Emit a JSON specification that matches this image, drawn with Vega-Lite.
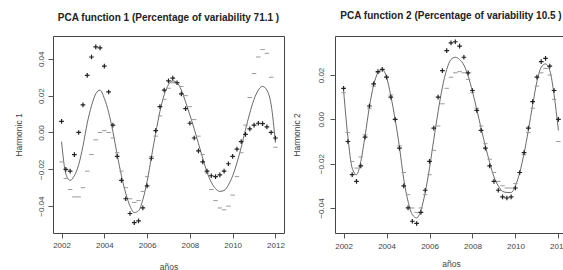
{
  "$schema": "https://vega.github.io/schema/vega-lite/v6.json",
  "padding": {"left": 13, "top": 10, "right": 0, "bottom": 0},
  "spacing": 6,
  "background": "white",
  "config": {
    "font": "Liberation Sans",
    "view": {"stroke": "#444", "strokeWidth": 1},
    "axis": {"grid": false, "domain": false, "tickColor": "#555", "tickSize": 5, "labelColor": "#444", "labelFontSize": 8, "titleFontSize": 8.5, "titleFontWeight": "normal", "titleColor": "#444"}
  },
  "datasets": {
    "p1": [
      {"year": 2002.0, "plus": 0.006, "minus": -0.016, "mean": -0.005},
      {"year": 2002.2, "plus": -0.020, "minus": -0.025, "mean": -0.0225},
      {"year": 2002.4, "plus": -0.021, "minus": -0.031, "mean": -0.026},
      {"year": 2002.6, "plus": -0.012, "minus": -0.035, "mean": -0.0235},
      {"year": 2002.8, "plus": 0.000, "minus": -0.035, "mean": -0.0175},
      {"year": 2003.0, "plus": 0.015, "minus": -0.030, "mean": -0.0075},
      {"year": 2003.2, "plus": 0.031, "minus": -0.021, "mean": 0.005},
      {"year": 2003.4, "plus": 0.041, "minus": -0.012, "mean": 0.0145},
      {"year": 2003.6, "plus": 0.0465, "minus": -0.004, "mean": 0.021},
      {"year": 2003.8, "plus": 0.046, "minus": 0.000, "mean": 0.023},
      {"year": 2004.0, "plus": 0.036, "minus": 0.001, "mean": 0.0185},
      {"year": 2004.2, "plus": 0.022, "minus": 0.000, "mean": 0.011},
      {"year": 2004.4, "plus": 0.004, "minus": -0.003, "mean": 0.0005},
      {"year": 2004.6, "plus": -0.013, "minus": -0.011, "mean": -0.012},
      {"year": 2004.8, "plus": -0.026, "minus": -0.021, "mean": -0.0235},
      {"year": 2005.0, "plus": -0.036, "minus": -0.030, "mean": -0.033},
      {"year": 2005.2, "plus": -0.044, "minus": -0.036, "mean": -0.040},
      {"year": 2005.4, "plus": -0.049, "minus": -0.038, "mean": -0.0435},
      {"year": 2005.6, "plus": -0.048, "minus": -0.037, "mean": -0.0425},
      {"year": 2005.8, "plus": -0.041, "minus": -0.032, "mean": -0.0365},
      {"year": 2006.0, "plus": -0.029, "minus": -0.024, "mean": -0.0265},
      {"year": 2006.2, "plus": -0.014, "minus": -0.013, "mean": -0.0135},
      {"year": 2006.4, "plus": 0.001, "minus": -0.002, "mean": -0.0005},
      {"year": 2006.6, "plus": 0.014, "minus": 0.009, "mean": 0.0115},
      {"year": 2006.8, "plus": 0.023, "minus": 0.018, "mean": 0.0205},
      {"year": 2007.0, "plus": 0.028, "minus": 0.024, "mean": 0.026},
      {"year": 2007.2, "plus": 0.0295, "minus": 0.027, "mean": 0.028},
      {"year": 2007.4, "plus": 0.027, "minus": 0.027, "mean": 0.027},
      {"year": 2007.6, "plus": 0.021, "minus": 0.025, "mean": 0.023},
      {"year": 2007.8, "plus": 0.013, "minus": 0.020, "mean": 0.0165},
      {"year": 2008.0, "plus": 0.005, "minus": 0.014, "mean": 0.0095},
      {"year": 2008.2, "plus": -0.003, "minus": 0.007, "mean": 0.002},
      {"year": 2008.4, "plus": -0.010, "minus": -0.002, "mean": -0.006},
      {"year": 2008.6, "plus": -0.016, "minus": -0.012, "mean": -0.014},
      {"year": 2008.8, "plus": -0.021, "minus": -0.022, "mean": -0.0215},
      {"year": 2009.0, "plus": -0.0235, "minus": -0.031, "mean": -0.027},
      {"year": 2009.2, "plus": -0.024, "minus": -0.037, "mean": -0.0305},
      {"year": 2009.4, "plus": -0.023, "minus": -0.041, "mean": -0.032},
      {"year": 2009.6, "plus": -0.021, "minus": -0.042, "mean": -0.0315},
      {"year": 2009.8, "plus": -0.017, "minus": -0.040, "mean": -0.0285},
      {"year": 2010.0, "plus": -0.013, "minus": -0.034, "mean": -0.0235},
      {"year": 2010.2, "plus": -0.009, "minus": -0.024, "mean": -0.0165},
      {"year": 2010.4, "plus": -0.005, "minus": -0.011, "mean": -0.008},
      {"year": 2010.6, "plus": -0.001, "minus": 0.004, "mean": 0.0015},
      {"year": 2010.8, "plus": 0.002, "minus": 0.019, "mean": 0.0105},
      {"year": 2011.0, "plus": 0.004, "minus": 0.032, "mean": 0.018},
      {"year": 2011.2, "plus": 0.005, "minus": 0.041, "mean": 0.023},
      {"year": 2011.4, "plus": 0.0048, "minus": 0.045, "mean": 0.025},
      {"year": 2011.6, "plus": 0.003, "minus": 0.043, "mean": 0.023},
      {"year": 2011.8, "plus": 0.000, "minus": 0.030, "mean": 0.015},
      {"year": 2012.0, "plus": -0.003, "minus": -0.008, "mean": -0.0055}
    ],
    "p2": [
      {"year": 2002.0, "plus": 0.014, "minus": 0.012, "mean": 0.013},
      {"year": 2002.2, "plus": -0.010, "minus": -0.006, "mean": -0.008},
      {"year": 2002.4, "plus": -0.025, "minus": -0.019, "mean": -0.022},
      {"year": 2002.6, "plus": -0.028, "minus": -0.022, "mean": -0.025},
      {"year": 2002.8, "plus": -0.021, "minus": -0.017, "mean": -0.019},
      {"year": 2003.0, "plus": -0.008, "minus": -0.007, "mean": -0.0075},
      {"year": 2003.2, "plus": 0.006, "minus": 0.005, "mean": 0.0055},
      {"year": 2003.4, "plus": 0.016, "minus": 0.015, "mean": 0.0155},
      {"year": 2003.6, "plus": 0.0215, "minus": 0.021, "mean": 0.021},
      {"year": 2003.8, "plus": 0.0225, "minus": 0.0225, "mean": 0.0225},
      {"year": 2004.0, "plus": 0.019, "minus": 0.019, "mean": 0.019},
      {"year": 2004.2, "plus": 0.010, "minus": 0.011, "mean": 0.0105},
      {"year": 2004.4, "plus": 0.000, "minus": 0.000, "mean": 0.000},
      {"year": 2004.6, "plus": -0.013, "minus": -0.012, "mean": -0.0125},
      {"year": 2004.8, "plus": -0.030, "minus": -0.024, "mean": -0.027},
      {"year": 2005.0, "plus": -0.040, "minus": -0.034, "mean": -0.037},
      {"year": 2005.2, "plus": -0.046, "minus": -0.040, "mean": -0.043},
      {"year": 2005.4, "plus": -0.047, "minus": -0.042, "mean": -0.0445},
      {"year": 2005.6, "plus": -0.042, "minus": -0.040, "mean": -0.041},
      {"year": 2005.8, "plus": -0.032, "minus": -0.034, "mean": -0.033},
      {"year": 2006.0, "plus": -0.019, "minus": -0.025, "mean": -0.022},
      {"year": 2006.2, "plus": -0.004, "minus": -0.014, "mean": -0.009},
      {"year": 2006.4, "plus": 0.010, "minus": -0.003, "mean": 0.0035},
      {"year": 2006.6, "plus": 0.022, "minus": 0.007, "mean": 0.0145},
      {"year": 2006.8, "plus": 0.031, "minus": 0.014, "mean": 0.0225},
      {"year": 2007.0, "plus": 0.0345, "minus": 0.019, "mean": 0.027},
      {"year": 2007.2, "plus": 0.035, "minus": 0.021, "mean": 0.028},
      {"year": 2007.4, "plus": 0.033, "minus": 0.0215, "mean": 0.027},
      {"year": 2007.6, "plus": 0.028, "minus": 0.021, "mean": 0.0245},
      {"year": 2007.8, "plus": 0.021, "minus": 0.018, "mean": 0.0195},
      {"year": 2008.0, "plus": 0.013, "minus": 0.012, "mean": 0.0125},
      {"year": 2008.2, "plus": 0.004, "minus": 0.005, "mean": 0.0045},
      {"year": 2008.4, "plus": -0.005, "minus": -0.003, "mean": -0.004},
      {"year": 2008.6, "plus": -0.013, "minus": -0.011, "mean": -0.012},
      {"year": 2008.8, "plus": -0.021, "minus": -0.018, "mean": -0.0195},
      {"year": 2009.0, "plus": -0.028, "minus": -0.024, "mean": -0.026},
      {"year": 2009.2, "plus": -0.032, "minus": -0.028, "mean": -0.030},
      {"year": 2009.4, "plus": -0.035, "minus": -0.030, "mean": -0.0325},
      {"year": 2009.6, "plus": -0.0355, "minus": -0.031, "mean": -0.033},
      {"year": 2009.8, "plus": -0.035, "minus": -0.031, "mean": -0.033},
      {"year": 2010.0, "plus": -0.031, "minus": -0.029, "mean": -0.030},
      {"year": 2010.2, "plus": -0.024, "minus": -0.024, "mean": -0.024},
      {"year": 2010.4, "plus": -0.015, "minus": -0.016, "mean": -0.0155},
      {"year": 2010.6, "plus": -0.004, "minus": -0.006, "mean": -0.005},
      {"year": 2010.8, "plus": 0.008, "minus": 0.005, "mean": 0.0065},
      {"year": 2011.0, "plus": 0.019, "minus": 0.015, "mean": 0.017},
      {"year": 2011.2, "plus": 0.026, "minus": 0.021, "mean": 0.0235},
      {"year": 2011.4, "plus": 0.0275, "minus": 0.023, "mean": 0.025},
      {"year": 2011.6, "plus": 0.024, "minus": 0.020, "mean": 0.022},
      {"year": 2011.8, "plus": 0.013, "minus": 0.009, "mean": 0.011},
      {"year": 2012.0, "plus": 0.000, "minus": -0.010, "mean": -0.005}
    ]
  },
  "hconcat": [
    {
      "width": 231,
      "height": 197,
      "title": {"text": "PCA function 1 (Percentage of variability 71.1 )", "fontSize": 10, "fontWeight": "bold", "color": "#222", "offset": 13, "anchor": "middle", "frame": "group"},
      "data": {"name": "p1"},
      "encoding": {
        "x": {"field": "year", "type": "quantitative", "scale": {"domain": [2001.6, 2012.4], "nice": false, "zero": false},
          "axis": {"values": [2002, 2004, 2006, 2008, 2010, 2012], "format": "d", "labelPadding": 3, "title": "años", "titlePadding": 13}}
      },
      "layer": [
        {"mark": {"type": "line", "color": "#444", "strokeWidth": 0.8, "interpolate": "monotone"},
          "encoding": {"y": {"field": "mean", "type": "quantitative", "title": "Harmonic 1", "scale": {"domain": [-0.0546, 0.0524], "nice": false, "zero": false},
            "axis": {"values": [-0.04, -0.02, 0, 0.02, 0.04], "format": ".2f", "labelAngle": 270, "labelPadding": 3, "titlePadding": 14}}}},
        {"mark": {"type": "point", "shape": "M-1,0L1,0", "filled": false, "color": "#999", "size": 20, "strokeWidth": 1, "opacity": 1},
          "encoding": {"y": {"field": "minus", "type": "quantitative", "title": "Harmonic 1"}}},
        {"mark": {"type": "point", "shape": "M-1,0L1,0M0,-1L0,1", "filled": false, "color": "#222", "size": 22, "strokeWidth": 1.2, "opacity": 1},
          "encoding": {"y": {"field": "plus", "type": "quantitative", "title": "Harmonic 1"}}}
      ]
    },
    {
      "width": 232,
      "height": 197,
      "title": {"text": "PCA function 2 (Percentage of variability 10.5 )", "fontSize": 10, "fontWeight": "bold", "color": "#222", "offset": 15, "anchor": "middle", "frame": "group"},
      "data": {"name": "p2"},
      "encoding": {
        "x": {"field": "year", "type": "quantitative", "scale": {"domain": [2001.6, 2012.4], "nice": false, "zero": false},
          "axis": {"values": [2002, 2004, 2006, 2008, 2010, 2012], "format": "d", "labelPadding": 4, "title": "años", "titlePadding": 9}}
      },
      "layer": [
        {"mark": {"type": "line", "color": "#444", "strokeWidth": 0.8, "interpolate": "monotone"},
          "encoding": {"y": {"field": "mean", "type": "quantitative", "title": "Harmonic 2", "scale": {"domain": [-0.0513, 0.0376], "nice": false, "zero": false},
            "axis": {"values": [-0.04, -0.02, 0, 0.02], "format": ".2f", "labelAngle": 270, "labelPadding": 5, "titlePadding": 16}}}},
        {"mark": {"type": "point", "shape": "M-1,0L1,0", "filled": false, "color": "#999", "size": 20, "strokeWidth": 1, "opacity": 1},
          "encoding": {"y": {"field": "minus", "type": "quantitative", "title": "Harmonic 2"}}},
        {"mark": {"type": "point", "shape": "M-1,0L1,0M0,-1L0,1", "filled": false, "color": "#222", "size": 22, "strokeWidth": 1.2, "opacity": 1},
          "encoding": {"y": {"field": "plus", "type": "quantitative", "title": "Harmonic 2"}}}
      ]
    }
  ]
}
